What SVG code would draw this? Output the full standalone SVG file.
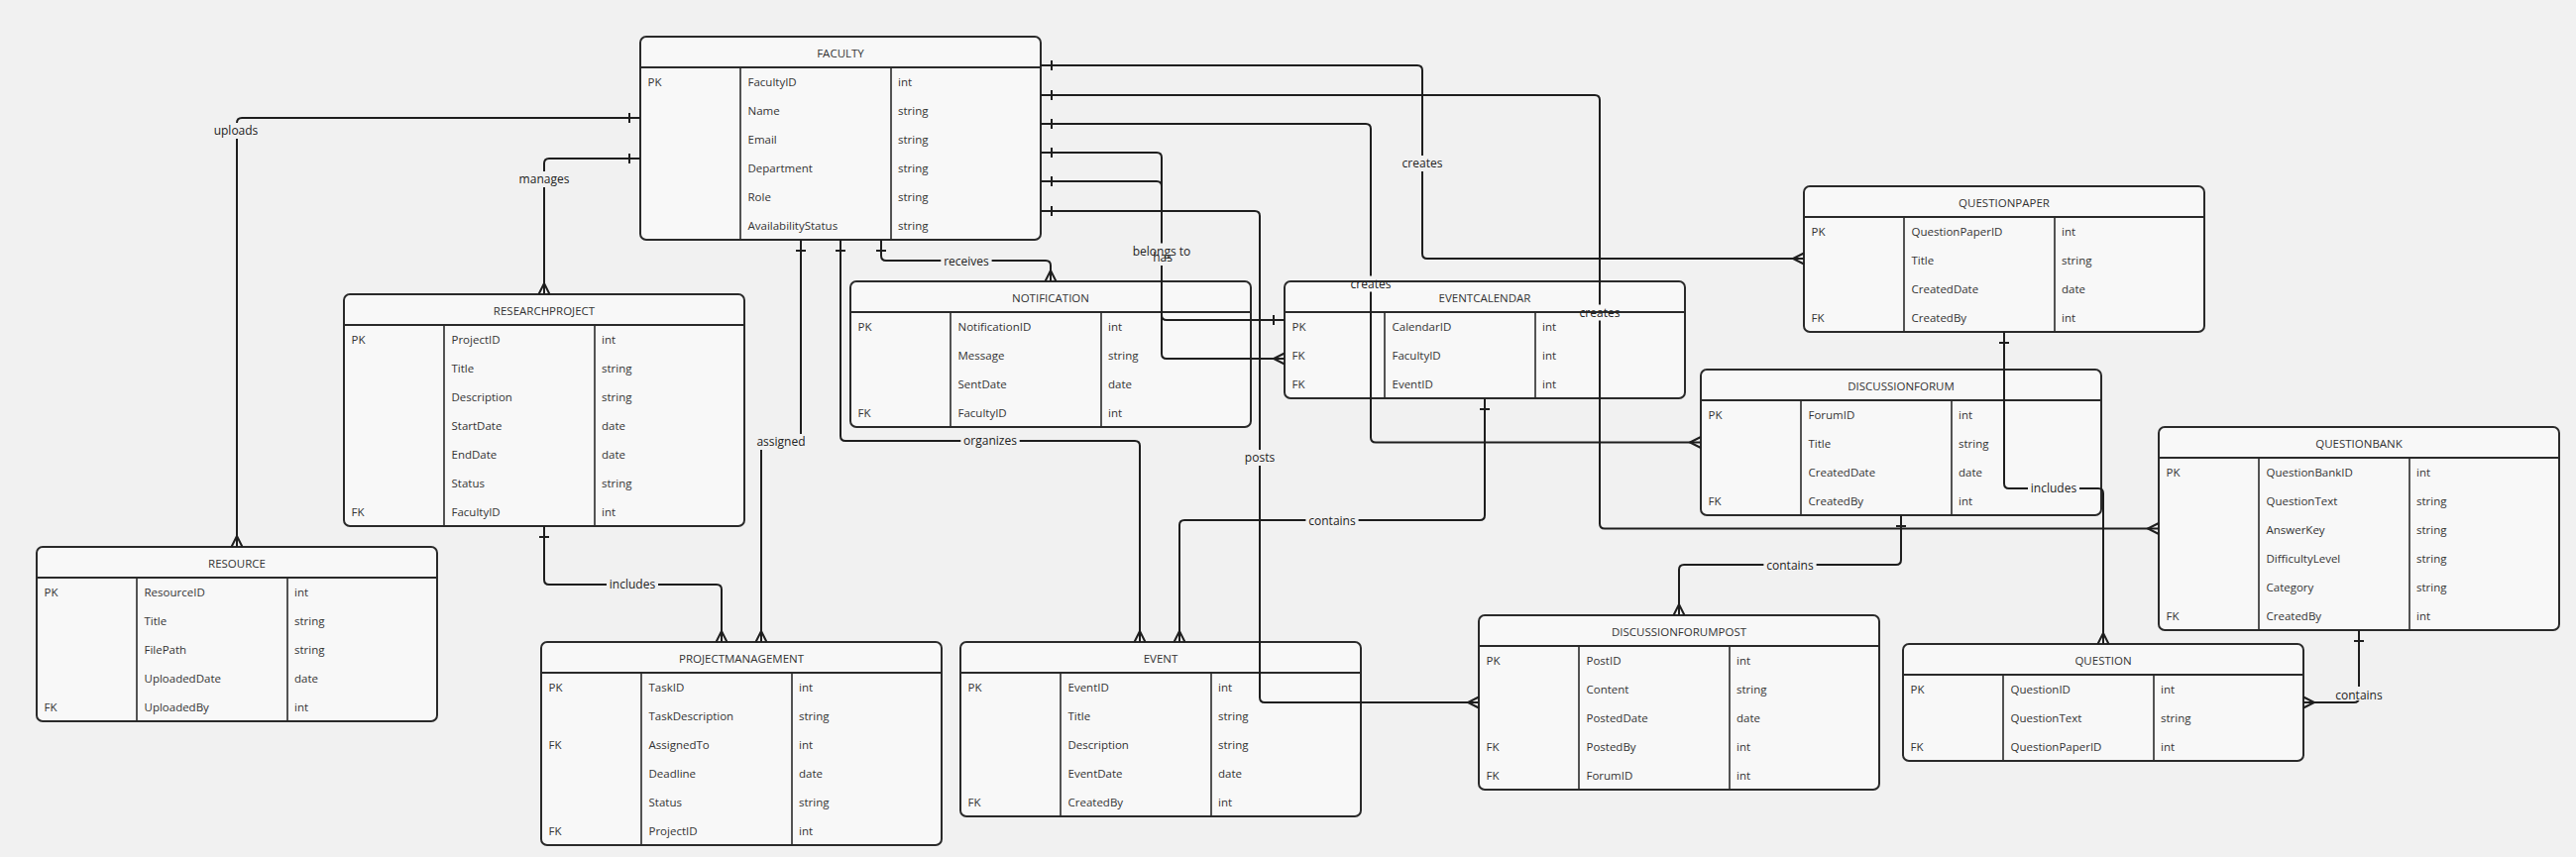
<svg xmlns="http://www.w3.org/2000/svg" width="2599" height="865" viewBox="0 0 2599 865">
<style>
.bg{fill:#f1f1f1}
.box{fill:#f8f8f8;stroke:#2a2a2a;stroke-width:2}
.sep{stroke:#2a2a2a;stroke-width:2}
.col{stroke:#2a2a2a;stroke-width:1.6}
.t{font-family:"Open Sans","Liberation Sans",sans-serif;font-size:11.5px;fill:#333}
.ttl{font-family:"Open Sans","Liberation Sans",sans-serif;font-size:11.5px;fill:#333;text-anchor:middle}
.conn path{fill:none;stroke:#1e1e1e;stroke-width:2}
.lbl{font-family:"Open Sans","Liberation Sans",sans-serif;font-size:12px;fill:#222;text-anchor:middle}
</style>
<defs>
<mask id="gaps" maskUnits="userSpaceOnUse" x="0" y="0" width="2599" height="865">
<rect x="0" y="0" width="2599" height="865" fill="#fff"/>
<rect x="213" y="124" width="50" height="16" fill="#000"/>
<rect x="520.5" y="173" width="57" height="16" fill="#000"/>
<rect x="612" y="582" width="52" height="16" fill="#000"/>
<rect x="760.6" y="438" width="54.8" height="16" fill="#000"/>
<rect x="969.3" y="437" width="59.4" height="16" fill="#000"/>
<rect x="949.3" y="255.5" width="51.3" height="16" fill="#000"/>
<rect x="1411.5" y="157" width="47" height="16" fill="#000"/>
<rect x="1590.5" y="307.5" width="47" height="16" fill="#000"/>
<rect x="1359.5" y="278.5" width="47" height="16" fill="#000"/>
<rect x="1140" y="245.5" width="64" height="16" fill="#000"/>
<rect x="1160" y="252" width="26" height="16" fill="#000"/>
<rect x="1252.8" y="454" width="36.4" height="16" fill="#000"/>
<rect x="1317.4" y="517.5" width="53.2" height="16" fill="#000"/>
<rect x="2046" y="485" width="52" height="16" fill="#000"/>
<rect x="1779.4" y="562.5" width="53.2" height="16" fill="#000"/>
<rect x="2353.4" y="693" width="53.2" height="14" fill="#000"/>
</mask>
</defs>
<rect class="bg" x="0" y="0" width="2599" height="865"/>

<g id="faculty" transform="translate(646,37)">
<rect class="box" x="0" y="0" width="404" height="205" rx="6"/>
<line class="sep" x1="0" y1="31" x2="404" y2="31"/>
<line class="col" x1="101" y1="31" x2="101" y2="205"/>
<line class="col" x1="253" y1="31" x2="253" y2="205"/>
<text class="ttl" x="202" y="20.5">FACULTY</text>
<text class="t" x="7.5" y="50">PK</text><text class="t" x="108.5" y="50">FacultyID</text><text class="t" x="260" y="50">int</text>
<text class="t" x="108.5" y="79">Name</text><text class="t" x="260" y="79">string</text>
<text class="t" x="108.5" y="108">Email</text><text class="t" x="260" y="108">string</text>
<text class="t" x="108.5" y="137">Department</text><text class="t" x="260" y="137">string</text>
<text class="t" x="108.5" y="166">Role</text><text class="t" x="260" y="166">string</text>
<text class="t" x="108.5" y="195">AvailabilityStatus</text><text class="t" x="260" y="195">string</text>
</g>

<g id="researchproject" transform="translate(347,297)">
<rect class="box" x="0" y="0" width="404" height="234" rx="6"/>
<line class="sep" x1="0" y1="31" x2="404" y2="31"/>
<line class="col" x1="101" y1="31" x2="101" y2="234"/>
<line class="col" x1="253" y1="31" x2="253" y2="234"/>
<text class="ttl" x="202" y="20.5">RESEARCHPROJECT</text>
<text class="t" x="7.5" y="50">PK</text><text class="t" x="108.5" y="50">ProjectID</text><text class="t" x="260" y="50">int</text>
<text class="t" x="108.5" y="79">Title</text><text class="t" x="260" y="79">string</text>
<text class="t" x="108.5" y="108">Description</text><text class="t" x="260" y="108">string</text>
<text class="t" x="108.5" y="137">StartDate</text><text class="t" x="260" y="137">date</text>
<text class="t" x="108.5" y="166">EndDate</text><text class="t" x="260" y="166">date</text>
<text class="t" x="108.5" y="195">Status</text><text class="t" x="260" y="195">string</text>
<text class="t" x="7.5" y="224">FK</text><text class="t" x="108.5" y="224">FacultyID</text><text class="t" x="260" y="224">int</text>
</g>

<g id="resource" transform="translate(37,552)">
<rect class="box" x="0" y="0" width="404" height="176" rx="6"/>
<line class="sep" x1="0" y1="31" x2="404" y2="31"/>
<line class="col" x1="101" y1="31" x2="101" y2="176"/>
<line class="col" x1="253" y1="31" x2="253" y2="176"/>
<text class="ttl" x="202" y="20.5">RESOURCE</text>
<text class="t" x="7.5" y="50">PK</text><text class="t" x="108.5" y="50">ResourceID</text><text class="t" x="260" y="50">int</text>
<text class="t" x="108.5" y="79">Title</text><text class="t" x="260" y="79">string</text>
<text class="t" x="108.5" y="108">FilePath</text><text class="t" x="260" y="108">string</text>
<text class="t" x="108.5" y="137">UploadedDate</text><text class="t" x="260" y="137">date</text>
<text class="t" x="7.5" y="166">FK</text><text class="t" x="108.5" y="166">UploadedBy</text><text class="t" x="260" y="166">int</text>
</g>

<g id="projectmanagement" transform="translate(546,648)">
<rect class="box" x="0" y="0" width="404" height="205" rx="6"/>
<line class="sep" x1="0" y1="31" x2="404" y2="31"/>
<line class="col" x1="101" y1="31" x2="101" y2="205"/>
<line class="col" x1="253" y1="31" x2="253" y2="205"/>
<text class="ttl" x="202" y="20.5">PROJECTMANAGEMENT</text>
<text class="t" x="7.5" y="50">PK</text><text class="t" x="108.5" y="50">TaskID</text><text class="t" x="260" y="50">int</text>
<text class="t" x="108.5" y="79">TaskDescription</text><text class="t" x="260" y="79">string</text>
<text class="t" x="7.5" y="108">FK</text><text class="t" x="108.5" y="108">AssignedTo</text><text class="t" x="260" y="108">int</text>
<text class="t" x="108.5" y="137">Deadline</text><text class="t" x="260" y="137">date</text>
<text class="t" x="108.5" y="166">Status</text><text class="t" x="260" y="166">string</text>
<text class="t" x="7.5" y="195">FK</text><text class="t" x="108.5" y="195">ProjectID</text><text class="t" x="260" y="195">int</text>
</g>

<g id="notification" transform="translate(858,284)">
<rect class="box" x="0" y="0" width="404" height="147" rx="6"/>
<line class="sep" x1="0" y1="31" x2="404" y2="31"/>
<line class="col" x1="101" y1="31" x2="101" y2="147"/>
<line class="col" x1="253" y1="31" x2="253" y2="147"/>
<text class="ttl" x="202" y="20.5">NOTIFICATION</text>
<text class="t" x="7.5" y="50">PK</text><text class="t" x="108.5" y="50">NotificationID</text><text class="t" x="260" y="50">int</text>
<text class="t" x="108.5" y="79">Message</text><text class="t" x="260" y="79">string</text>
<text class="t" x="108.5" y="108">SentDate</text><text class="t" x="260" y="108">date</text>
<text class="t" x="7.5" y="137">FK</text><text class="t" x="108.5" y="137">FacultyID</text><text class="t" x="260" y="137">int</text>
</g>

<g id="eventcalendar" transform="translate(1296,284)">
<rect class="box" x="0" y="0" width="404" height="118" rx="6"/>
<line class="sep" x1="0" y1="31" x2="404" y2="31"/>
<line class="col" x1="101" y1="31" x2="101" y2="118"/>
<line class="col" x1="253" y1="31" x2="253" y2="118"/>
<text class="ttl" x="202" y="20.5">EVENTCALENDAR</text>
<text class="t" x="7.5" y="50">PK</text><text class="t" x="108.5" y="50">CalendarID</text><text class="t" x="260" y="50">int</text>
<text class="t" x="7.5" y="79">FK</text><text class="t" x="108.5" y="79">FacultyID</text><text class="t" x="260" y="79">int</text>
<text class="t" x="7.5" y="108">FK</text><text class="t" x="108.5" y="108">EventID</text><text class="t" x="260" y="108">int</text>
</g>

<g id="event" transform="translate(969,648)">
<rect class="box" x="0" y="0" width="404" height="176" rx="6"/>
<line class="sep" x1="0" y1="31" x2="404" y2="31"/>
<line class="col" x1="101" y1="31" x2="101" y2="176"/>
<line class="col" x1="253" y1="31" x2="253" y2="176"/>
<text class="ttl" x="202" y="20.5">EVENT</text>
<text class="t" x="7.5" y="50">PK</text><text class="t" x="108.5" y="50">EventID</text><text class="t" x="260" y="50">int</text>
<text class="t" x="108.5" y="79">Title</text><text class="t" x="260" y="79">string</text>
<text class="t" x="108.5" y="108">Description</text><text class="t" x="260" y="108">string</text>
<text class="t" x="108.5" y="137">EventDate</text><text class="t" x="260" y="137">date</text>
<text class="t" x="7.5" y="166">FK</text><text class="t" x="108.5" y="166">CreatedBy</text><text class="t" x="260" y="166">int</text>
</g>

<g id="questionpaper" transform="translate(1820,188)">
<rect class="box" x="0" y="0" width="404" height="147" rx="6"/>
<line class="sep" x1="0" y1="31" x2="404" y2="31"/>
<line class="col" x1="101" y1="31" x2="101" y2="147"/>
<line class="col" x1="253" y1="31" x2="253" y2="147"/>
<text class="ttl" x="202" y="20.5">QUESTIONPAPER</text>
<text class="t" x="7.5" y="50">PK</text><text class="t" x="108.5" y="50">QuestionPaperID</text><text class="t" x="260" y="50">int</text>
<text class="t" x="108.5" y="79">Title</text><text class="t" x="260" y="79">string</text>
<text class="t" x="108.5" y="108">CreatedDate</text><text class="t" x="260" y="108">date</text>
<text class="t" x="7.5" y="137">FK</text><text class="t" x="108.5" y="137">CreatedBy</text><text class="t" x="260" y="137">int</text>
</g>

<g id="discussionforum" transform="translate(1716,373)">
<rect class="box" x="0" y="0" width="404" height="147" rx="6"/>
<line class="sep" x1="0" y1="31" x2="404" y2="31"/>
<line class="col" x1="101" y1="31" x2="101" y2="147"/>
<line class="col" x1="253" y1="31" x2="253" y2="147"/>
<text class="ttl" x="202" y="20.5">DISCUSSIONFORUM</text>
<text class="t" x="7.5" y="50">PK</text><text class="t" x="108.5" y="50">ForumID</text><text class="t" x="260" y="50">int</text>
<text class="t" x="108.5" y="79">Title</text><text class="t" x="260" y="79">string</text>
<text class="t" x="108.5" y="108">CreatedDate</text><text class="t" x="260" y="108">date</text>
<text class="t" x="7.5" y="137">FK</text><text class="t" x="108.5" y="137">CreatedBy</text><text class="t" x="260" y="137">int</text>
</g>

<g id="questionbank" transform="translate(2178,431)">
<rect class="box" x="0" y="0" width="404" height="205" rx="6"/>
<line class="sep" x1="0" y1="31" x2="404" y2="31"/>
<line class="col" x1="101" y1="31" x2="101" y2="205"/>
<line class="col" x1="253" y1="31" x2="253" y2="205"/>
<text class="ttl" x="202" y="20.5">QUESTIONBANK</text>
<text class="t" x="7.5" y="50">PK</text><text class="t" x="108.5" y="50">QuestionBankID</text><text class="t" x="260" y="50">int</text>
<text class="t" x="108.5" y="79">QuestionText</text><text class="t" x="260" y="79">string</text>
<text class="t" x="108.5" y="108">AnswerKey</text><text class="t" x="260" y="108">string</text>
<text class="t" x="108.5" y="137">DifficultyLevel</text><text class="t" x="260" y="137">string</text>
<text class="t" x="108.5" y="166">Category</text><text class="t" x="260" y="166">string</text>
<text class="t" x="7.5" y="195">FK</text><text class="t" x="108.5" y="195">CreatedBy</text><text class="t" x="260" y="195">int</text>
</g>

<g id="discussionforumpost" transform="translate(1492,621)">
<rect class="box" x="0" y="0" width="404" height="176" rx="6"/>
<line class="sep" x1="0" y1="31" x2="404" y2="31"/>
<line class="col" x1="101" y1="31" x2="101" y2="176"/>
<line class="col" x1="253" y1="31" x2="253" y2="176"/>
<text class="ttl" x="202" y="20.5">DISCUSSIONFORUMPOST</text>
<text class="t" x="7.5" y="50">PK</text><text class="t" x="108.5" y="50">PostID</text><text class="t" x="260" y="50">int</text>
<text class="t" x="108.5" y="79">Content</text><text class="t" x="260" y="79">string</text>
<text class="t" x="108.5" y="108">PostedDate</text><text class="t" x="260" y="108">date</text>
<text class="t" x="7.5" y="137">FK</text><text class="t" x="108.5" y="137">PostedBy</text><text class="t" x="260" y="137">int</text>
<text class="t" x="7.5" y="166">FK</text><text class="t" x="108.5" y="166">ForumID</text><text class="t" x="260" y="166">int</text>
</g>

<g id="question" transform="translate(1920,650)">
<rect class="box" x="0" y="0" width="404" height="118" rx="6"/>
<line class="sep" x1="0" y1="31" x2="404" y2="31"/>
<line class="col" x1="101" y1="31" x2="101" y2="118"/>
<line class="col" x1="253" y1="31" x2="253" y2="118"/>
<text class="ttl" x="202" y="20.5">QUESTION</text>
<text class="t" x="7.5" y="50">PK</text><text class="t" x="108.5" y="50">QuestionID</text><text class="t" x="260" y="50">int</text>
<text class="t" x="108.5" y="79">QuestionText</text><text class="t" x="260" y="79">string</text>
<text class="t" x="7.5" y="108">FK</text><text class="t" x="108.5" y="108">QuestionPaperID</text><text class="t" x="260" y="108">int</text>
</g>

<g id="connectors" class="conn">
<g mask="url(#gaps)">
<path d="M646,119 H244 Q239,119 239,124 V552"/>
<path d="M646,160 H554 Q549,160 549,165 V297"/>
<path d="M549,531 V585 Q549,590 554,590 H723 Q728,590 728,595 V648"/>
<path d="M808,242 V441 Q808,446 803,446 H773 Q768,446 768,451 V648"/>
<path d="M848,242 V440 Q848,445 853,445 H1145 Q1150,445 1150,450 V648"/>
<path d="M889,242 V258 Q889,263 894,263 H1055 Q1060,263 1060,268 V284"/>
<path d="M1050,66 H1430 Q1435,66 1435,71 V256 Q1435,261 1440,261 H1820"/>
<path d="M1050,96 H1609 Q1614,96 1614,101 V528.5 Q1614,533.5 1619,533.5 H2178"/>
<path d="M1050,125 H1378 Q1383,125 1383,130 V441.5 Q1383,446.5 1388,446.5 H1716"/>
<path d="M1050,154 H1167 Q1172,154 1172,159 V357 Q1172,362 1177,362 H1296"/>
<path d="M1050,183 H1167 Q1172,183 1172,188 V318 Q1172,323 1177,323 H1296"/>
<path d="M1050,213 H1266 Q1271,213 1271,218 V704 Q1271,709 1276,709 H1492"/>
<path d="M1498,402 V520 Q1498,525 1493,525 H1195 Q1190,525 1190,530 V648"/>
<path d="M2022,335 V488 Q2022,493 2027,493 H2117 Q2122,493 2122,498 V650"/>
<path d="M1918,520 V565 Q1918,570 1913,570 H1699 Q1694,570 1694,575 V621"/>
<path d="M2380,636 V704 Q2380,709 2375,709 H2324"/>
</g>
<!-- one-side ticks -->
<path d="M635,114 V124 M635,155 V165 M544,542 H554 M803,253 H813 M843,253 H853 M884,253 H894 M1061,61 V71 M1061,91 V101 M1061,120 V130 M1061,149 V159 M1061,178 V188 M1061,208 V218 M1285,318 V328 M1493,413 H1503 M2017,346 H2027 M1913,531 H1923 M2375,647 H2385"/>
<!-- many-side crow feet -->
<path d="M233.5,552 L239,541 L244.5,552 M543.5,297 L549,286 L554.5,297 M722.5,648 L728,637 L733.5,648 M762.5,648 L768,637 L773.5,648 M1144.5,648 L1150,637 L1155.5,648 M1054.5,284 L1060,273 L1065.5,284 M1820,255.5 L1809,261 L1820,266.5 M2178,528 L2167,533.5 L2178,539 M1716,441 L1705,446.5 L1716,452 M1296,356.5 L1285,362 L1296,367.5 M1492,703.5 L1481,709 L1492,714.5 M1184.5,648 L1190,637 L1195.5,648 M2116.5,650 L2122,639 L2127.5,650 M1688.5,621 L1694,610 L1699.5,621 M2324,703.5 L2335,709 L2324,714.5"/>
</g>

<g id="labels">
<text class="lbl" x="238" y="136">uploads</text>
<text class="lbl" x="549" y="185">manages</text>
<text class="lbl" x="638" y="594">includes</text>
<text class="lbl" x="788" y="450">assigned</text>
<text class="lbl" x="999" y="449">organizes</text>
<text class="lbl" x="975" y="267.5">receives</text>
<text class="lbl" x="1435" y="169">creates</text>
<text class="lbl" x="1614" y="319.5">creates</text>
<text class="lbl" x="1383" y="290.5">creates</text>
<text class="lbl" x="1172" y="257.5">belongs to</text>
<text class="lbl" x="1173" y="264">has</text>
<text class="lbl" x="1271" y="466">posts</text>
<text class="lbl" x="1344" y="529.5">contains</text>
<text class="lbl" x="2072" y="497">includes</text>
<text class="lbl" x="1806" y="574.5">contains</text>
<text class="lbl" x="2380" y="706">contains</text>
</g>
</svg>
